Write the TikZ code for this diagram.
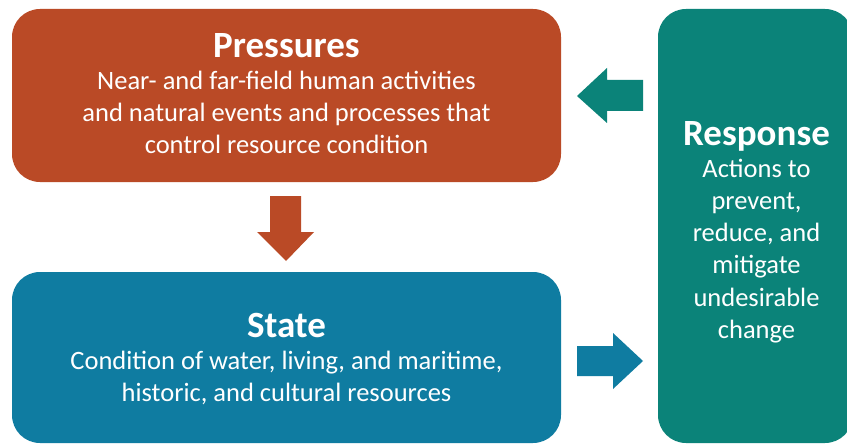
\documentclass[tikz,border=0pt]{standalone}
\usepackage{fontspec}
\setmainfont{Carlito}
\definecolor{pcol}{RGB}{186,74,38}
\definecolor{scol}{RGB}{15,124,161}
\definecolor{rcol}{RGB}{11,131,121}
\begin{document}
\begin{tikzpicture}[x=1pt,y={(0pt,-1pt)},
  box/.style={rounded corners=28pt,draw=none,inner sep=0pt},
  ttl/.style={text=white,font=\fontsize{37}{40}\selectfont\bfseries,inner sep=0pt,anchor=base},
  bdy/.style={text=white,font=\fontsize{26.5}{32.3}\selectfont,align=center,inner sep=0pt,anchor=base}]
\useasboundingbox (0,0) rectangle (847,444);
\fill[white] (0,0) rectangle (847,444);
% boxes
\fill[pcol,box] (12,9) rectangle (561,182);
\fill[scol,box] (12,272) rectangle (561,443);
\fill[rcol,box] (658,9) rectangle (853,443);
% texts (body nodes: base = baseline of last line)
\node[ttl] (pt) at (286.5,58) {Pressures};
\node[bdy] (pb) at (286.5,153.6) {Near- and far-field human activities\\and natural events and processes that\\control resource condition};
\node[ttl] (st) at (286.5,337) {State};
\node[bdy] (sb) at (286.5,401.5) {Condition of water, living, and maritime,\\historic, and cultural resources};
\node[ttl] (rt) at (756.5,146) {Response};
\node[bdy] (rb) at (756.5,338.5) {Actions to\\prevent,\\reduce, and\\mitigate\\undesirable\\change};
% block arrows
\fill[pcol] (270,196) -- (301,196) -- (301,232) -- (314,232) -- (286,261) -- (257,232) -- (270,232) -- cycle;
\fill[rcol] (643,80) -- (643,111) -- (607,111) -- (607,123) -- (577,96) -- (607,68) -- (607,80) -- cycle;
\fill[scol] (577,346) -- (613,346) -- (613,333) -- (643,361) -- (613,389) -- (613,376) -- (577,376) -- cycle;
\end{tikzpicture}
\end{document}
